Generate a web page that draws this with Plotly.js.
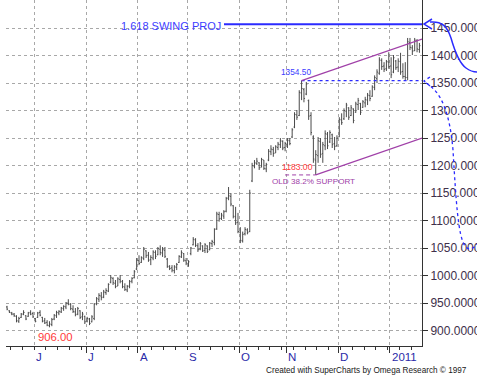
<!DOCTYPE html>
<html>
<head>
<meta charset="utf-8">
<script src="https://cdn.plot.ly/plotly-3.0.1.min.js"></script>
<style>html,body{margin:0;padding:0;background:#fff;}#chart{width:477px;height:384px;}</style>
</head>
<body>
<div id="chart"></div>
<script>
// ---- data ----
const highs = [
 945,937,934,932,928,925,932,937,928,934,937,934,
 923,934,937,925,923,919,917,923,930,936,937,943,946,952,957,950,946,941,943,937,934,927,
 925,923,928,950,961,968,970,974,977,986,1001,997,992,997,1001,992,986,983,992,997,1010,
 1032,1037,1035,1052,1046,1043,1037,1046,1046,1052,1055,1052,1052,1032,1019,1019,1019,1023,1037,1046,1041,1032,
 1028,1052,1070,1068,1059,1061,1055,1059,1055,1061,1065,1086,1116,1116,1114,1119,1143,1161,1150,1128,1125,1114,
 1088,1080,1088,1086,1156,1205,1210,1214,1206,1214,1210,1205,1230,1237,1234,1237,1243,1250,1246,1243,
 1250,1250,1268,1297,1301,1337,1354.5,1341,1352,1320,1297,1255,1228,1252,1250,1243,1264,1261,1264,1258,1252,1255,
 1288,1295,1304,1314,1306,1310,1304,1316,1323,1314,1319,1325,1332,1337,1346,1364,1375,1397,1395,1388,1392,1406,
 1397,1401,1392,1395,1405,1386,1388,1432,1432,1419,1432,1430,1423
];
const lows = [
 937,932,928,925,915,914,923,928,919,925,928,923,
 915,923,926,915,912,908,906,908,919,923,928,932,936,939,946,937,932,926,928,921,919,912,
 915,910,915,919,946,952,955,959,965,970,986,983,977,981,986,977,972,970,977,986,995,
 1010,1019,1023,1028,1032,1025,1019,1028,1030,1037,1037,1034,1032,1014,1010,1006,1004,1010,1023,1032,1025,1019,
 1016,1037,1055,1052,1043,1046,1043,1041,1041,1046,1052,1055,1083,1098,1101,1103,1115,1137,1126,1104,1092,1077,
 1059,1060,1073,1075,1079,1170,1195,1201,1192,1197,1192,1188,1208,1219,1216,1223,1228,1232,1228,1226,
 1232,1237,1250,1268,1283,1290,1319,1315,1328,1283,1255,1205,1183,1205,1214,1205,1228,1230,1241,1232,1228,1234,
 1252,1274,1283,1288,1283,1290,1277,1296,1301,1292,1305,1306,1310,1317,1325,1337,1350,1365,1374,1370,1372,1376,
 1359,1368,1374,1370,1365,1358,1355,1355,1410,1401,1408,1406,1405
];
const opens = [
 943,936,932,930,926,917,924,930,927,926,933,931,
 922,924,933,924,918,915,909,911,921,927,932,934,940,943,950,948,939,934,930,936,925,926,
 917,921,916,922,949,957,963,961,969,972,988,995,986,981,993,989,979,974,981,990,996,
 1012,1027,1024,1031,1045,1037,1029,1032,1042,1038,1048,1041,1046,1030,1016,1014,1009,1015,1024,1034,1040,1027,
 1022,1040,1056,1065,1054,1048,1054,1046,1054,1047,1058,1060,1085,1111,1104,1108,1117,1141,1144,1127,1107,1097,
 1079,1063,1076,1083,1080,1172,1199,1204,1205,1197,1210,1194,1210,1225,1229,1223,1233,1238,1244,1233,
 1239,1245,1252,1270,1292,1291,1332,1338,1330,1318,1291,1252,1210,1218,1244,1222,1236,1257,1243,1256,1240,1236,
 1252,1283,1285,1299,1305,1291,1303,1297,1311,1313,1306,1314,1319,1327,1326,1342,1358,1368,1391,1381,1376,1388,
 1381,1370,1390,1379,1389,1371,1362,1360,1424,1414,1409,1427,1411
];
const closes = [
 939,933,930,927,918,922,930,933,921,932,930,925,
 917,932,928,917,914,910,912,920,928,933,935,941,944,950,948,940,935,929,940,924,930,916,
 922,913,925,948,958,964,960,970,973,984,996,987,980,994,990,980,975,980,989,995,1007,
 1028,1022,1033,1048,1036,1028,1033,1043,1035,1049,1042,1047,1035,1017,1013,1010,1016,1020,1035,1042,1028,1023,
 1025,1050,1066,1055,1047,1058,1045,1056,1044,1059,1062,1084,1112,1103,1110,1116,1140,1145,1130,1108,1096,1080,
 1064,1075,1084,1078,1150,1200,1205,1208,1196,1211,1195,1202,1226,1230,1222,1234,1239,1245,1232,1240,
 1246,1240,1265,1293,1288,1333,1340,1322,1348,1290,1260,1212,1220,1245,1220,1238,1258,1236,1260,1238,1235,1250,
 1284,1278,1300,1310,1288,1305,1282,1312,1318,1297,1316,1320,1328,1322,1343,1360,1370,1392,1380,1375,1389,1380,
 1365,1396,1378,1390,1370,1362,1360,1425,1415,1408,1428,1412,1418
];
const monthLabels = ['J','J','A','S','O','N','D','2011'];
const monthStartBar = [12,34,56,77,99,119,141,163];
const priceTicks = [900,950,1000,1050,1100,1150,1200,1250,1300,1350,1400,1450];
const swingProj = 1457;            // 1.618 swing projection level
const channelUpperEnd = 1430;      // upper channel value at right edge
const channelLowerEnd = 1250;      // lower channel value at right edge
const swingWindowEnd = 150;        // swing high/low searched before this bar

// ---- build ----
const idx = highs.map((_, i) => i);
const hiVal = Math.max(...highs.slice(0, swingWindowEnd));
const idxHigh = highs.indexOf(hiVal);
const loVal = Math.min(...lows.slice(idxHigh, swingWindowEnd));
const idxLow = idxHigh + lows.slice(idxHigh, swingWindowEnd).indexOf(loVal);
const minVal = Math.min(...lows), idxMin = lows.indexOf(minVal);
const xRange = [-0.45, 176.1];
const yRange = [872, 1501];

const PL = 6, PR = 422, PT = 0, PB = 346;
const px = x => (x - PL) / (PR - PL);
const py = y => (PB - y) / (PB - PT);
const P = (x, y) => px(x).toFixed(4) + ',' + py(y).toFixed(4);

const FONT = 'Liberation Sans, Arial, sans-serif';
const BLUE = '#2b2bff';
const PURPLE = '#a040a8';
const RED = '#ff3a3a';

const trace = {
  type: 'ohlc', x: idx, open: opens, high: highs, low: lows, close: closes,
  increasing: {line: {color: '#4a4a4a', width: 1}},
  decreasing: {line: {color: '#4a4a4a', width: 1}},
  tickwidth: 0.42, hoverinfo: 'skip', showlegend: false
};

const shapes = [
  // swing projection line
  {type: 'line', xref: 'paper', yref: 'y', x0: px(224), x1: 1, y0: swingProj, y1: swingProj,
   line: {color: BLUE, width: 2}},
  {type: 'path', xref: 'paper', yref: 'paper', path: 'M' + P(432, 19) + ' L' + P(424, 24) + ' L' + P(432, 29),
   line: {color: BLUE, width: 1.5}},
  {type: 'path', xref: 'paper', yref: 'paper',
   path: 'M' + P(430, 22) + ' C' + P(442, 21) + ' ' + P(447, 26) + ' ' + P(451, 38) +
         ' C' + P(455, 52) + ' ' + P(459, 63) + ' ' + P(466, 68) +
         ' C' + P(470, 71) + ' ' + P(473, 72) + ' ' + P(477, 72),
   line: {color: BLUE, width: 1.5}},
  // dashed line at the swing high
  {type: 'line', xref: 'x', yref: 'y', x0: idxHigh, x1: xRange[1], y0: hiVal, y1: hiVal,
   line: {color: BLUE, width: 1.3, dash: '3px,3px'}},
  {type: 'path', xref: 'paper', yref: 'paper', path: 'M' + P(430, 77) + ' L' + P(424, 81) + ' L' + P(430, 86),
   line: {color: BLUE, width: 1.3, dash: 'dot'}},
  {type: 'path', xref: 'paper', yref: 'paper',
   path: 'M' + P(426, 83) + ' C' + P(442, 92) + ' ' + P(450, 115) + ' ' + P(453, 150) +
         ' C' + P(456, 200) + ' ' + P(458, 236) + ' ' + P(465, 246) +
         ' C' + P(469, 251) + ' ' + P(473, 249) + ' ' + P(477, 244),
   line: {color: BLUE, width: 1.3, dash: 'dot'}},
  // channel lines
  {type: 'line', xref: 'x', yref: 'y', x0: idxHigh, x1: xRange[1], y0: hiVal, y1: channelUpperEnd,
   line: {color: PURPLE, width: 1.2}},
  {type: 'line', xref: 'x', yref: 'y', x0: idxLow, x1: xRange[1], y0: loVal, y1: channelLowerEnd,
   line: {color: PURPLE, width: 1.2}},
  {type: 'line', xref: 'x', yref: 'y', x0: idxLow - 13, x1: idxLow, y0: loVal, y1: loVal,
   line: {color: PURPLE, width: 1, dash: '4px,3px'}}
];

const annotations = [
  {xref: 'paper', yref: 'y', x: px(223), y: swingProj, xanchor: 'right', yanchor: 'middle', yshift: -2,
   text: '1.618 SWING PROJ', showarrow: false, font: {family: FONT, size: 11, color: '#3c3cff'}},
  {xref: 'x', yref: 'y', x: idxHigh, y: hiVal, xanchor: 'center', yanchor: 'middle', xshift: -6, yshift: 9,
   text: hiVal.toFixed(2), showarrow: false, font: {family: FONT, size: 8.3, color: '#3c3cff'}},
  {xref: 'x', yref: 'y', x: idxLow, y: loVal, xanchor: 'center', yanchor: 'middle', xshift: -18, yshift: 8,
   text: loVal.toFixed(2), showarrow: false, font: {family: FONT, size: 8.6, color: RED}},
  {xref: 'x', yref: 'y', x: idxLow, y: loVal, xanchor: 'center', yanchor: 'middle', xshift: -2, yshift: -7,
   text: 'OLD 38.2% SUPPORT', showarrow: false, font: {family: FONT, size: 8.1, color: PURPLE}},
  {xref: 'x', yref: 'y', x: idxMin, y: minVal, xanchor: 'center', yanchor: 'middle', xshift: 6, yshift: -10,
   text: minVal.toFixed(2), showarrow: false, font: {family: FONT, size: 11.3, color: RED}},
  {xref: 'paper', yref: 'paper', x: px(469), y: py(370), xanchor: 'right', yanchor: 'middle',
   text: 'Created with SuperCharts by Omega Research © 1997', showarrow: false,
   font: {family: FONT, size: 8.2, color: '#202020'}}
];
monthLabels.forEach((m, k) => annotations.push({
  xref: 'x', yref: 'paper', x: monthStartBar[k] - 0.5, y: py(357), xanchor: 'left', yanchor: 'middle',
  text: m, showarrow: false, font: {family: FONT, size: 11.5, color: '#2a2aa8'}
}));

const layout = {
  width: 477, height: 384,
  margin: {l: PL, r: 477 - PR, t: PT, b: 384 - PB, pad: 0},
  paper_bgcolor: '#ffffff', plot_bgcolor: '#ffffff',
  showlegend: false, dragmode: false,
  xaxis: {
    type: 'linear', range: xRange, rangeslider: {visible: false}, fixedrange: true,
    tickmode: 'array', tickvals: monthStartBar.map(v => v - 0.5), ticktext: monthLabels.map(() => ''),
    showticklabels: false, ticks: 'outside', ticklen: 6, tickcolor: '#333', tickwidth: 1,
    minor: {tickmode: 'linear', tick0: 1.5, dtick: 5, ticks: 'outside', ticklen: 3, tickcolor: '#333', showgrid: false},
    showgrid: true, gridcolor: '#a8a8a8', griddash: 'dot', gridwidth: 1,
    showline: true, linecolor: '#333', linewidth: 1, zeroline: false
  },
  yaxis: {
    side: 'right', range: yRange, fixedrange: true,
    tickmode: 'array', tickvals: priceTicks, ticktext: priceTicks.map(v => v.toFixed(4)),
    ticks: 'outside', ticklen: 5, tickcolor: '#333', tickwidth: 1,
    tickfont: {family: FONT, size: 12, color: '#40304a'},
    showgrid: true, gridcolor: '#a8a8a8', griddash: 'dot', gridwidth: 1,
    showline: true, linecolor: '#333', linewidth: 1, zeroline: false
  },
  shapes: shapes,
  annotations: annotations
};

Plotly.newPlot('chart', [trace], layout, {displayModeBar: false, staticPlot: true});
</script>
</body>
</html>
